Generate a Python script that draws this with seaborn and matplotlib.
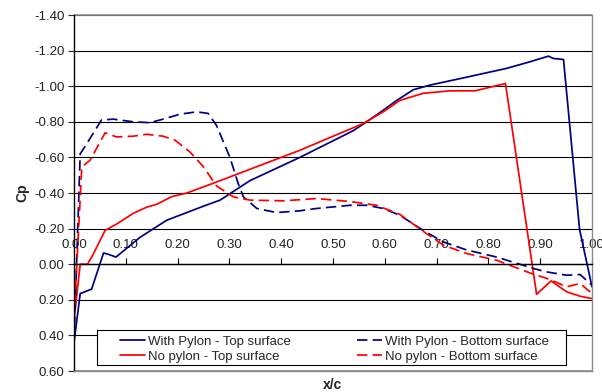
import matplotlib
matplotlib.use("Agg")
import matplotlib.pyplot as plt
import seaborn as sns
import pandas as pd
from matplotlib.lines import Line2D
from matplotlib.patches import Rectangle

# ---- data ----
wp_top_x = [0.0, 0.012, 0.034, 0.057, 0.066, 0.081, 0.127, 0.179, 0.25, 0.282, 0.34, 0.436,
            0.539, 0.565, 0.597, 0.623, 0.655, 0.687, 0.76, 0.835, 0.88, 0.916, 0.925, 0.945,
            0.976, 1.0]
wp_top_cp = [0.44, 0.165, 0.14, -0.063, -0.056, -0.04, -0.15, -0.247, -0.326, -0.36, -0.47, -0.60,
             -0.75, -0.80, -0.865, -0.92, -0.98, -1.006, -1.052, -1.10, -1.137, -1.169, -1.156, -1.15,
             -0.195, 0.127]

np_top_x = [0.0, 0.012, 0.026, 0.036, 0.06, 0.082, 0.114, 0.14, 0.16, 0.189, 0.218, 0.269, 0.436,
            0.558, 0.597, 0.629, 0.674, 0.726, 0.774, 0.833, 0.893, 0.921, 0.951, 0.977, 1.0]
np_top_cp = [0.315, 0.0, 0.0, -0.05, -0.19, -0.225, -0.285, -0.32, -0.337, -0.38, -0.40, -0.455, -0.64,
             -0.79, -0.856, -0.92, -0.96, -0.974, -0.974, -1.015, 0.169, 0.094, 0.155, 0.18, 0.193]

wp_bot_x = [0.0, 0.012, 0.021, 0.053, 0.076, 0.114, 0.147, 0.172, 0.205, 0.237, 0.259, 0.275, 0.301,
            0.317, 0.327, 0.353, 0.391, 0.436, 0.468, 0.533, 0.565, 0.597, 0.629, 0.674, 0.713, 0.758,
            0.816, 0.887, 0.912, 0.951, 0.977, 1.0]
wp_bot_cp = [0.44, -0.62, -0.66, -0.81, -0.815, -0.80, -0.795, -0.815, -0.843, -0.856, -0.847, -0.78,
             -0.60, -0.453, -0.378, -0.313, -0.29, -0.30, -0.313, -0.331, -0.331, -0.313, -0.275, -0.19,
             -0.125, -0.08, -0.04, 0.024, 0.043, 0.062, 0.058, 0.118]

np_bot_x = [0.0, 0.015, 0.031, 0.06, 0.082, 0.114, 0.14, 0.172, 0.195, 0.224, 0.25, 0.275, 0.308, 0.34,
            0.404, 0.468, 0.533, 0.584, 0.629, 0.674, 0.713, 0.758, 0.816, 0.88, 0.919, 0.951, 0.977, 1.0]
np_bot_cp = [0.315, -0.547, -0.584, -0.738, -0.715, -0.719, -0.73, -0.719, -0.697, -0.63, -0.547, -0.44,
             -0.378, -0.36, -0.356, -0.369, -0.352, -0.331, -0.28, -0.185, -0.107, -0.06, -0.022, 0.049,
             0.086, 0.127, 0.108, 0.165]

series_names = ["With Pylon - Top surface", "No pylon - Top surface",
                "With Pylon - Bottom surface", "No pylon - Bottom surface"]
x_ticks = [0.0, 0.1, 0.2, 0.3, 0.4, 0.5, 0.6, 0.7, 0.8, 0.9, 1.0]
y_ticks = [-1.4, -1.2, -1.0, -0.8, -0.6, -0.4, -0.2, 0.0, 0.2, 0.4, 0.6]

frames = []
for name, xs, ys in zip(series_names,
                        [wp_top_x, np_top_x, wp_bot_x, np_bot_x],
                        [wp_top_cp, np_top_cp, wp_bot_cp, np_bot_cp]):
    frames.append(pd.DataFrame({"x": xs, "Cp": ys, "series": name}))
df = pd.concat(frames, ignore_index=True)

sns.set_style("white")
plt.rcParams["font.family"] = ["Liberation Sans", "DejaVu Sans"]

NAVY = "#000080"
RED = "#FF0000"
palette = {series_names[0]: NAVY, series_names[1]: RED,
           series_names[2]: NAVY, series_names[3]: RED}
dash_map = {series_names[0]: "", series_names[1]: "",
            series_names[2]: (6, 3), series_names[3]: (6, 3)}

W, H = 602, 392
fig = plt.figure(figsize=(6.02, 3.92), dpi=100)
ax = fig.add_axes([74 / W, 1 - 371 / H, (592 - 74) / W, (371 - 15) / H])

sns.lineplot(data=df, x="x", y="Cp", hue="series", style="series", palette=palette,
             dashes=dash_map, sort=False, estimator=None, linewidth=1.25, ax=ax, legend=False)

ax.set_xlim(0, 1.0)
ax.set_ylim(0.6, -1.4)
ax.set_yticks(y_ticks)
ax.set_yticklabels([f"{v:.2f}" for v in y_ticks])
ax.set_xticks(x_ticks)
ax.set_xticklabels([f"{v:.2f}" for v in x_ticks])

# gridlines
ax.yaxis.grid(True, color="black", linewidth=0.8)
ax.xaxis.grid(False)
ax.set_axisbelow(True)

# frame
GRAY = "#8c8c8c"
for s in ["right", "bottom"]:
    ax.spines[s].set_color(GRAY)
    ax.spines[s].set_linewidth(1.0)
ax.spines["left"].set_color("black")
ax.spines["left"].set_linewidth(1.0)
ax.axhline(-1.4, color=GRAY, linewidth=1.2, zorder=1.5, clip_on=False)
ax.axhline(0.6, color=GRAY, linewidth=1.2, zorder=1.5, clip_on=False)

# x axis crossing at y=0, ticks and labels above
ax.xaxis.set_ticks_position("top")
ax.spines["top"].set_position(("data", 0))
ax.spines["top"].set_color("black")
ax.spines["top"].set_linewidth(1.0)
ax.tick_params(axis="x", which="major", direction="out", length=4, width=0.8,
               colors="black", labelsize=9.5, pad=5.5, top=True, bottom=False,
               labeltop=True, labelbottom=False, labelcolor="#222222")
ax.tick_params(axis="y", which="major", direction="out", length=4, width=0.8,
               left=True, labelsize=9.5, pad=3, labelcolor="#222222")

ax.xaxis.set_label_position("bottom")
ax.set_xlabel("x/c", fontsize=10, fontweight="bold", labelpad=5)
ax.set_ylabel("Cp", fontsize=10, fontweight="bold", labelpad=3)

# legend: box drawn as a rectangle, entries centred inside it
bx0, bx1, by0, by1 = 97, 566, 330, 365  # pixel box in figure
rect = Rectangle((bx0 / W, 1 - by1 / H), (bx1 - bx0) / W, (by1 - by0) / H,
                 transform=fig.transFigure, facecolor="white", edgecolor="black",
                 linewidth=0.8, zorder=4)
fig.add_artist(rect)

handles = [
    Line2D([], [], color=NAVY, lw=1.25),
    Line2D([], [], color=RED, lw=1.25),
    Line2D([], [], color=NAVY, lw=1.25, dashes=(6, 3)),
    Line2D([], [], color=RED, lw=1.25, dashes=(6, 3)),
]
leg = fig.legend(handles, series_names, ncol=2, loc="center",
                 bbox_to_anchor=(((bx0 + bx1) / 2 + 3) / W, 1 - ((by0 + by1) / 2 + 1.5) / H),
                 fontsize=9.5, frameon=False,
                 handlelength=1.9, handletextpad=0.25, borderaxespad=0.0,
                 borderpad=0.0, labelspacing=0.2, columnspacing=5.0)
leg.set_zorder(5)

fig.savefig("out.png", dpi=100)
